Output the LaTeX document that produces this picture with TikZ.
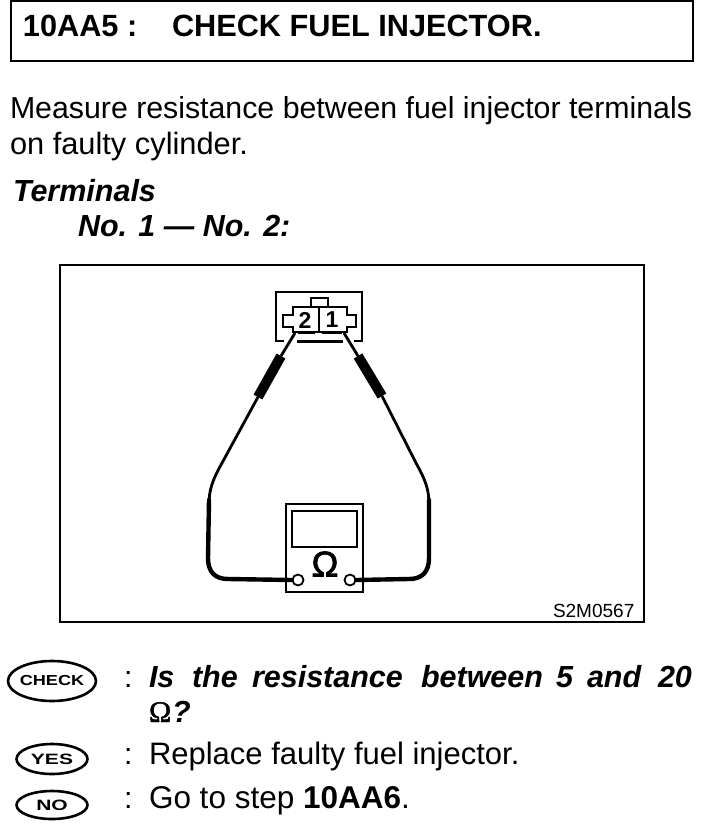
\documentclass[tikz,border=0pt]{standalone}
\usepackage{fontspec}
\setmainfont{Liberation Sans}
\newfontfamily\serifom[FakeBold=1.5]{Liberation Serif}
\newfontfamily\heavyom[FakeBold=2]{Liberation Sans}
\usetikzlibrary{shapes.geometric}
\newcommand{\fs}[1]{\fontsize{#1}{#1}\selectfont}
\tikzset{x=1pt,y=-1pt,
 txt/.style={anchor=base west,inner sep=0pt,outer sep=0pt,text=black},
 body/.style={txt,font=\fs{30.3}},
 bolditalic/.style={txt,font=\fs{30.5}\bfseries\itshape},
 titletxt/.style={txt,font=\fs{30.7}\bfseries},
 outline/.style={draw=black,line width=2pt},
 lead/.style={draw=black,line width=2.8pt},
 thick lead/.style={draw=black,line width=4.4pt,line cap=round},
 grip/.style={draw=black,line width=10pt},
 badge/.style={draw=black,ellipse,line width=2.6pt,inner sep=0pt,fill=white},
 term/.style={draw=black,circle,line width=1.8pt,fill=white,minimum size=11pt,inner sep=0pt}
}
\begin{document}
\begin{tikzpicture}
\useasboundingbox (0,0) rectangle (704,824);
\fill[white] (0,0) rectangle (704,824);
% title
\draw[draw=black,line width=2.6pt] (11,1) -- (11,61) -- (693,61) -- (693,1) -- cycle;
\node[titletxt] (title) at (23,37) {10AA5 :};
\node[titletxt] (title2) at (172,37) {CHECK FUEL INJECTOR.};
% body
\node[body] (m1) at (10,119) {Measure resistance between fuel injector terminals};
\node[body,font=\fs{30.8}] (m2) at (10,154) {on faulty cylinder.};
\node[bolditalic] (t1) at (13,201) {Terminals};
\node[bolditalic] (t2) at (78,236) {No. 1 — No. 2:};
% figure frame
\draw[black,line width=2pt] (60,265) -- (644,265) -- (644,622) -- (60,622) -- cycle;
% connector
\draw[outline] (284,341) -- (276,341) -- (276,292) -- (362,292) -- (362,341) -- (354,341);
\draw[black,line width=3pt] (297,341) -- (343,341);
\draw[outline] (311,306) -- (311,298) -- (328,298) -- (328,306);
\draw[outline] (283,315) -- (293,315) -- (293,307) -- (347,307) -- (347,315) -- (356,315) -- (356,327) -- (347,327) -- (347,332) -- (293,332) -- (293,327) -- (283,327) -- cycle;
\draw[outline] (318.5,307) -- (318.5,332);
\draw[black,line width=3pt] (298,332) -- (315,332) (322,332) -- (342,332);
\node[inner sep=0pt,font=\fs{23}\bfseries] (n2) at (305,320) {2};
\node[inner sep=0pt,font=\fs{23}\bfseries] (n1) at (332,320) {1};
\coordinate (cl) at (295,333);
\coordinate (cr) at (344,333);
% meter
\node[draw=black,line width=2pt,minimum width=77pt,minimum height=88pt,inner sep=0pt] (meter) at (324.5,548) {};
\node[draw=black,line width=2.6pt,minimum width=65pt,minimum height=36pt,inner sep=0pt] (screen) at (324.5,529) {};
\node[inner sep=0pt,font=\fs{36}\heavyom] (ohm) at (325,564) {Ω};
\node[term] (tl) at (298,580) {};
\node[term] (tr) at (350,580) {};
% leads
\coordinate (gl1) at (281,356);
\coordinate (gl2) at (258,397);
\coordinate (gr1) at (358,356);
\coordinate (gr2) at (382,396);
\draw[lead] (cl) -- (gl1);
\draw[grip] (gl1) -- (gl2);
\draw[lead] (cr) -- (gr1);
\draw[grip] (gr1) -- (gr2);
\draw[lead] (gl2) -- (222,463) .. controls (212,481) and (209,490) .. (209,505);
\draw[lead] (gr2) -- (416,463) .. controls (426,481) and (429,490) .. (429,505);
\draw[thick lead] (209,500) -- (208,558) .. controls (208,572) and (215,579) .. (228,579) -- (tl.west);
\draw[thick lead] (429,500) -- (429,558) .. controls (429,572) and (422,579) .. (409,579) -- (tr.east);
\node[txt,font=\fs{19}] (code) at (553,617) {S2M0567};
% badges
\node[badge,minimum width=88pt,minimum height=40pt,label={[font=\fs{14.5}\bfseries]center:\scalebox{1.25}[1]{CHECK}}] (check) at (52,681) {};
\node[badge,minimum width=71pt,minimum height=30pt,label={[font=\fs{15}\bfseries]center:\scalebox{1.4}[1]{YES}}] (yes) at (52,759) {};
\node[badge,minimum width=71pt,minimum height=28pt,label={[font=\fs{15}\bfseries]center:\scalebox{1.4}[1]{NO}}] (no) at (52,805) {};
\node[body] (c1) at (124,687) {:};
\node[body] (c2) at (124,764) {:};
\node[body] (c3) at (124,808) {:};
\node[bolditalic] (q1a) at (149,687) {Is};
\node[bolditalic] (q1b) at (192,687) {the};
\node[bolditalic] (q1c) at (252,687) {resistance};
\node[bolditalic] (q1d) at (421,687) {between};
\node[bolditalic] (q1e) at (556,687) {5};
\node[bolditalic] (q1f) at (587,687) {and};
\node[bolditalic] (q1g) at (658,687) {20};
\node[txt,font=\fs{30}\serifom] (q2a) at (149,722) {Ω};
\node[bolditalic] (q2b) at (172,722) {?};
\node[body,font=\fs{31}] (y) at (149,764) {Replace faulty fuel injector.};
\node[body,font=\fs{31.5}] (g) at (149,808) {Go to step \textbf{10AA6}.};
\end{tikzpicture}
\end{document}
